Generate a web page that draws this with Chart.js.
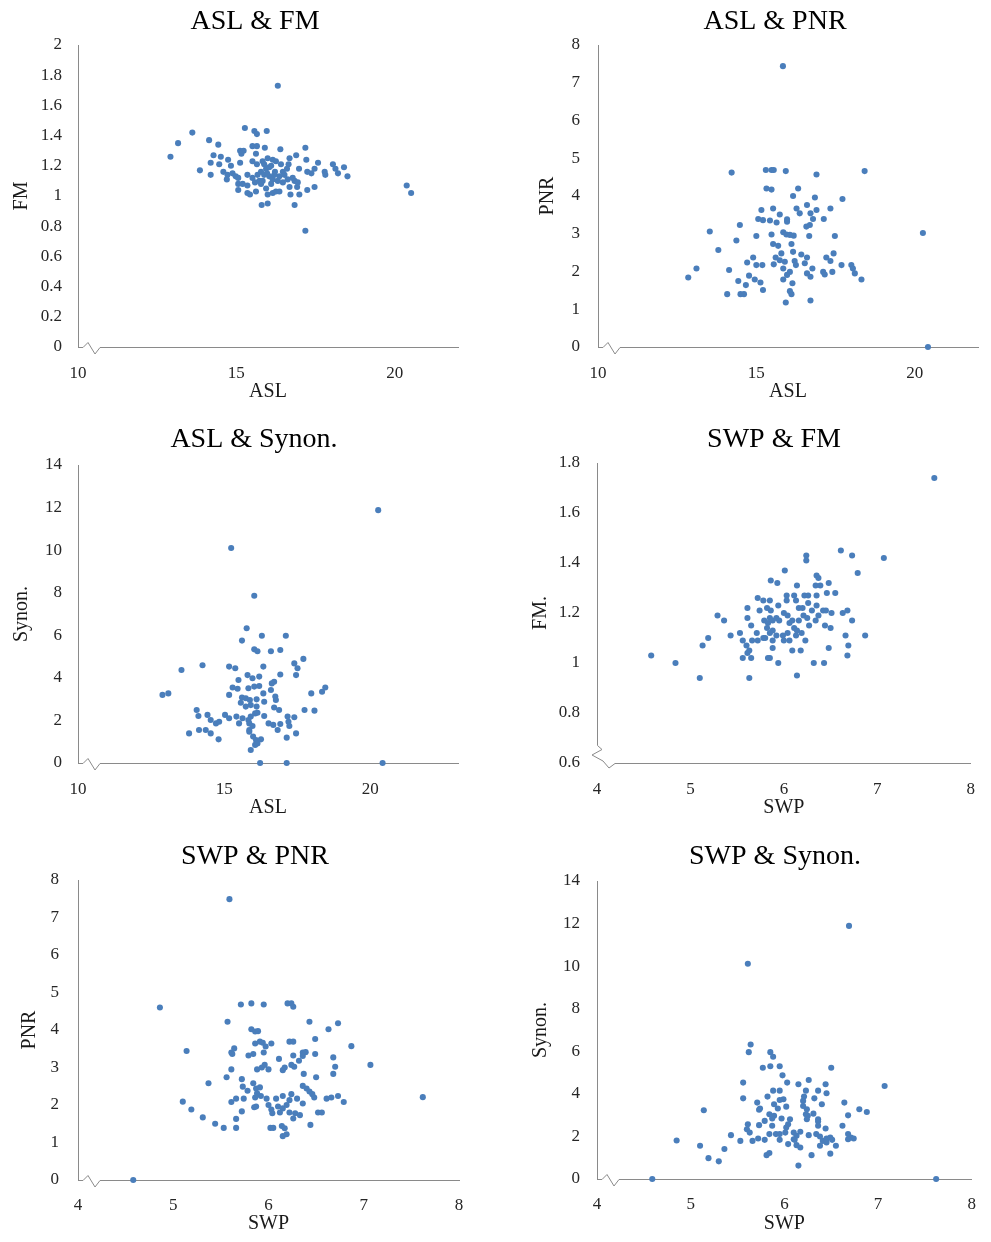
<!DOCTYPE html>
<html><head><meta charset="utf-8">
<script src="https://cdn.jsdelivr.net/npm/chart.js@4"></script>
<style>
html,body{margin:0;padding:0;background:#fff;}
#wrap{position:relative;width:991px;height:1242px;overflow:hidden;background:#fff;}
canvas{position:absolute;}
</style></head><body><div id="wrap">
<canvas id="c1" width="495" height="414" style="left:0px;top:0px"></canvas>
<canvas id="c2" width="496" height="414" style="left:495px;top:0px"></canvas>
<canvas id="c3" width="495" height="414" style="left:0px;top:414px"></canvas>
<canvas id="c4" width="496" height="414" style="left:495px;top:414px"></canvas>
<canvas id="c5" width="495" height="414" style="left:0px;top:828px"></canvas>
<canvas id="c6" width="496" height="414" style="left:495px;top:828px"></canvas>
</div>
<script>
// ---------------- DATA ----------------
const titles = ["ASL & FM", "ASL & PNR", "ASL & Synon.", "SWP & FM", "SWP & PNR", "SWP & Synon."];
const xTitles = ["ASL", "ASL", "ASL", "SWP", "SWP", "SWP"];
const yTitles = ["FM", "PNR", "Synon.", "FM.", "PNR", "Synon."];

const aslFM_asl = [16.31,13.61,13.16,12.92,14.14,14.43,13.85,14.19,15.27,15.57,
15.65,15.96,15.51,15.65,15.90,16.39,17.18,15.12,15.23,15.16,
15.62,16.89,16.68,17.21,17.58,14.28,14.51,14.74,14.19,14.46,
14.83,15.12,15.51,15.65,15.83,15.99,16.15,16.25,16.41,16.65,
18.05,18.40,18.13,18.21,17.79,17.47,17.37,17.24,16.98,18.51,
17.81,14.59,14.72,14.88,14.98,14.70,15.06,15.35,15.51,15.78,
15.94,16.10,16.22,16.47,16.60,15.88,16.04,16.15,16.31,16.47,
16.62,16.78,16.84,15.06,15.20,15.35,15.59,15.73,15.83,15.06,
15.35,15.62,15.99,16.15,16.25,16.36,16.68,16.92,16.71,16.99,
17.24,17.47,15.43,15.80,15.99,16.84,17.18,20.38,20.52,15.88,
16.04,15.97,16.20,16.36,16.52,15.67,15.78,16.10,15.94,16.94];
const aslFM_fm = [1.73,1.42,1.35,1.26,1.37,1.34,1.17,1.14,1.45,1.43,
1.41,1.43,1.33,1.33,1.32,1.31,1.32,1.30,1.30,1.28,
1.28,1.27,1.25,1.24,1.22,1.27,1.26,1.24,1.22,1.21,
1.20,1.22,1.23,1.21,1.23,1.25,1.24,1.23,1.21,1.21,
1.21,1.19,1.18,1.15,1.16,1.18,1.15,1.16,1.18,1.13,
1.14,1.16,1.14,1.15,1.13,1.11,1.12,1.14,1.12,1.16,
1.18,1.20,1.16,1.16,1.18,1.14,1.13,1.11,1.10,1.09,
1.11,1.12,1.10,1.08,1.08,1.07,1.09,1.10,1.10,1.04,
1.02,1.03,1.01,1.02,1.03,1.03,1.06,1.06,1.01,1.01,
1.04,1.06,1.01,0.94,0.95,0.94,0.77,1.07,1.02,1.21,
1.19,1.15,1.14,1.13,1.14,1.14,1.08,1.08,1.05,1.09];

const aslPNR_asl = [14.22,15.30,15.48,15.55,15.93,16.90,18.42,15.32,15.48,16.32,
16.16,16.85,17.72,15.16,15.53,15.74,16.27,16.37,16.60,16.90,
16.71,17.34,15.06,15.21,15.43,15.64,15.97,15.97,16.79,17.13,
16.69,16.58,14.48,13.53,14.37,15.00,15.48,15.85,15.95,16.06,
16.18,16.67,17.48,15.53,15.69,16.11,16.16,13.80,14.90,14.71,
15.00,15.19,15.55,15.61,15.79,15.74,15.90,15.85,16.21,16.25,
16.42,16.60,16.53,16.77,17.21,17.34,17.44,17.69,18.00,18.05,
13.11,12.85,14.14,14.43,14.77,14.95,15.13,15.21,14.67,14.08,
14.50,14.61,16.06,15.97,15.85,16.14,16.60,16.71,17.11,17.16,
17.40,18.11,18.32,16.06,16.11,15.93,16.71,20.26,20.42,15.84];
const aslPNR_pnr = [4.62,4.69,4.69,4.69,4.66,4.57,4.66,4.20,4.17,4.20,
4.00,3.96,3.92,3.63,3.67,3.51,3.67,3.54,3.76,3.63,
3.54,3.67,3.39,3.36,3.35,3.30,3.38,3.32,3.39,3.39,
3.23,3.19,3.23,3.06,2.82,2.94,2.98,3.04,2.98,2.97,
2.95,2.94,2.94,2.73,2.68,2.73,2.52,2.57,2.37,2.24,
2.17,2.17,2.19,2.37,2.48,2.30,2.26,2.08,2.28,2.17,
2.45,2.37,2.22,2.08,2.37,2.28,2.48,2.17,2.17,2.08,
2.08,1.84,2.04,1.75,1.89,1.79,1.71,1.51,1.64,1.40,
1.40,1.40,1.99,1.91,1.79,1.69,1.95,1.86,1.99,1.92,
1.99,1.95,1.79,1.48,1.40,1.18,1.23,3.02,0,7.44];

const aslSyn_asl = [16.03,15.77,16.29,17.11,15.61,16.03,16.14,16.60,16.92,13.54,
14.26,15.17,15.38,16.34,17.40,17.71,17.51,17.46,15.49,15.80,
15.97,16.20,16.92,16.71,16.63,15.29,15.46,15.83,16.03,16.20,
16.60,16.34,15.17,15.61,15.74,15.88,16.11,16.37,16.75,16.77,
12.89,13.09,17.98,18.35,18.46,15.57,15.74,15.91,16.11,16.71,
16.88,14.06,14.12,14.43,14.54,14.72,14.83,15.03,15.17,15.42,
15.63,15.83,15.91,16.06,16.14,16.37,17.17,17.40,17.75,18.09,
15.51,15.86,15.97,16.52,16.68,16.92,17.23,17.20,13.80,14.14,
14.37,14.54,14.81,15.86,15.86,16.83,17.46,17.14,15.99,16.09,
16.06,16.14,16.26,15.91,16.23,17.14,20.42,15.24,20.27];
const aslSyn_syn = [7.86,6.33,5.98,5.98,5.75,5.34,5.25,5.25,5.31,4.37,
4.59,4.53,4.45,4.53,4.68,4.89,4.45,4.13,3.90,4.13,
3.98,4.06,4.16,3.82,3.74,3.55,3.49,3.51,3.59,3.62,
3.43,3.27,3.20,3.08,3.04,2.96,2.99,2.88,3.12,2.96,
3.20,3.27,3.27,3.35,3.55,2.83,2.65,2.72,2.65,2.61,
2.49,2.49,2.21,2.26,2.02,1.86,1.94,2.26,2.10,2.18,
2.10,2.02,2.18,2.33,2.36,2.21,2.18,2.15,2.49,2.46,
1.86,1.86,1.74,1.86,1.79,1.83,1.74,1.94,1.39,1.55,
1.55,1.39,1.11,1.55,1.47,1.55,1.39,1.19,1.24,1.08,
0.85,0.92,1.11,0.61,0,0,0,10.1,11.88];

const swpFM_swp = [4.58,4.84,5.10,5.13,5.19,5.29,5.36,5.43,5.53,5.56,
5.60,5.63,5.65,5.56,5.61,5.66,5.71,5.72,5.78,5.61,
5.61,5.65,5.72,5.78,5.85,5.74,5.82,5.86,5.85,5.79,
5.86,5.93,6.01,6.14,6.24,6.24,6.35,6.37,6.34,6.39,
6.48,6.46,6.55,6.61,6.73,6.79,7.07,5.94,6.03,6.03,
6.11,6.13,6.22,6.26,6.26,6.35,6.35,6.16,6.20,6.30,
6.42,6.45,6.51,6.63,6.68,6.73,5.83,5.88,5.92,5.95,
6.00,6.04,6.06,6.09,6.16,6.21,6.25,6.27,6.34,6.37,
6.44,6.50,6.11,6.14,5.82,5.85,5.88,5.92,5.99,6.04,
6.06,6.13,6.19,6.23,5.80,5.88,5.88,6.00,6.09,6.18,
5.83,5.85,5.94,6.32,6.43,6.48,6.69,6.68,6.66,6.87,
5.63,6.14,7.61];
const swpFM_fm = [1.03,1.00,0.94,1.07,1.10,1.19,1.17,1.11,1.12,1.09,
1.07,1.05,1.02,1.02,1.04,1.09,1.12,1.09,1.10,1.22,
1.18,1.15,1.26,1.25,1.25,1.21,1.22,1.21,1.18,1.17,
1.33,1.32,1.37,1.31,1.43,1.41,1.35,1.34,1.31,1.31,
1.32,1.28,1.28,1.45,1.43,1.36,1.42,1.23,1.27,1.25,
1.27,1.25,1.27,1.27,1.24,1.27,1.23,1.22,1.22,1.21,
1.21,1.21,1.20,1.20,1.21,1.17,1.16,1.17,1.18,1.17,
1.20,1.19,1.16,1.17,1.17,1.19,1.18,1.15,1.17,1.19,
1.15,1.14,1.14,1.13,1.14,1.12,1.13,1.11,1.11,1.12,
1.09,1.11,1.12,1.09,1.10,1.09,1.06,1.09,1.05,1.05,
1.02,1.02,1.00,1.00,1.00,1.06,1.07,1.03,1.11,1.11,
0.94,0.95,1.74];

const swpPNR_swp = [4.86,5.71,5.82,5.95,6.20,6.24,6.26,5.57,6.43,6.73,
6.63,5.82,5.86,5.89,6.49,6.87,5.86,5.91,5.94,5.97,
6.03,6.22,6.26,5.14,5.61,5.64,5.62,5.79,5.84,5.95,
6.11,6.26,6.36,6.39,6.36,6.32,6.49,6.68,5.61,5.88,
5.93,5.96,6.00,6.15,6.17,6.24,6.27,6.37,6.50,6.70,
6.68,7.07,5.37,5.56,5.72,5.84,5.73,5.78,5.87,5.91,
5.88,5.92,5.86,6.36,6.40,6.43,6.46,6.48,5.10,5.61,
5.66,5.74,5.98,6.08,6.15,6.22,6.24,6.30,6.36,6.61,
6.66,6.73,6.79,5.19,5.31,5.44,5.53,5.66,5.66,5.72,
5.85,5.87,6.00,6.03,6.04,6.10,6.15,6.19,6.12,6.22,
6.28,6.33,6.26,6.52,6.56,6.44,6.02,6.05,6.14,6.17,
6.15,6.19,5.59,7.62,4.58];
const swpPNR_pnr = [4.60,4.68,4.71,4.68,4.71,4.71,4.62,4.22,4.22,4.18,
4.02,4.02,3.96,3.97,3.76,3.57,3.64,3.69,3.66,3.56,
3.64,3.69,3.69,3.44,3.40,3.51,3.36,3.32,3.36,3.40,
3.23,3.32,3.40,3.41,3.31,3.18,3.36,3.27,2.95,2.95,
3.00,3.07,2.95,2.93,3.00,3.07,3.02,2.83,2.74,3.02,
2.83,3.07,2.58,2.74,2.69,2.58,2.49,2.38,2.44,2.47,
2.31,2.24,2.20,2.51,2.44,2.36,2.29,2.20,2.09,2.08,
2.17,2.17,2.17,2.17,2.24,2.13,2.29,2.17,2.04,2.17,
2.20,2.24,2.08,1.88,1.67,1.50,1.39,1.63,1.39,1.83,
1.94,1.96,2.00,1.88,1.78,1.96,1.91,2.00,1.80,1.80,
1.78,1.73,1.64,1.80,1.80,1.47,1.39,1.39,1.44,1.38,
1.17,1.22,7.49,2.21,0];

const swpSyn_swp = [5.64,5.62,5.85,5.88,5.77,5.85,5.95,6.50,5.98,5.56,
6.03,6.15,6.26,6.44,7.07,5.88,5.95,6.23,6.36,6.45,
5.56,5.82,5.95,5.99,6.21,6.20,6.32,6.64,6.40,5.71,
5.89,5.93,6.02,5.73,5.74,6.20,6.24,6.80,6.88,6.68,
5.84,5.89,5.87,5.97,5.79,6.23,6.25,6.31,6.36,6.36,
6.24,6.06,6.04,5.61,5.60,5.63,5.73,5.87,6.02,6.36,
6.44,6.62,5.43,5.53,5.66,5.72,5.79,5.84,5.91,5.95,
5.95,6.01,6.10,6.17,6.13,6.10,6.04,6.13,6.17,6.11,
6.26,6.34,6.38,6.41,6.45,6.49,6.51,6.45,6.55,6.68,
6.71,6.74,6.68,6.38,5.10,5.19,5.30,5.36,5.81,5.84,
6.29,6.49,6.15,5.14,5.61,6.69,7.62,4.59,4.85];
const swpSyn_syn = [6.32,5.96,5.96,5.74,5.23,5.30,5.30,5.23,4.87,4.53,
4.53,4.45,4.65,4.45,4.37,4.15,4.15,4.15,4.15,4.03,
3.79,3.87,3.71,3.75,3.87,3.67,3.79,3.59,3.51,3.59,
3.51,3.31,3.40,3.25,3.31,3.43,3.28,3.28,3.15,2.99,
3.04,2.97,2.84,2.84,2.73,3.04,2.97,3.07,2.81,2.70,
2.81,2.81,2.57,2.57,2.34,2.18,2.53,2.50,2.42,2.50,
2.37,2.50,2.06,1.79,1.79,1.90,1.84,2.11,2.11,2.11,
1.84,2.18,2.18,2.22,2.03,1.87,1.64,1.59,1.48,1.84,
2.06,2.11,2.00,1.79,1.90,1.95,1.84,1.72,1.56,2.11,
1.95,1.90,1.87,1.56,1.56,0.98,0.83,1.41,1.12,1.22,
1.12,1.19,0.63,3.23,10.11,11.89,0,0,1.81];

// axis ranges and steps
const xRanges = [[10,22,5],[10,22,5],[10,23,5],[4,8,1],[4,8,1],[4,8,1]];
const yRanges = [[0,2,0.2],[0,8,1],[0,14,2],[0.6,1.8,0.2],[0,8,1],[0,14,2]];

// ---------------- LAYOUT ----------------
const FONT = "'Liberation Serif','Times New Roman',serif";
const BLUE = '#4A7EBB';
const AXIS = '#8a8a8a';
const panels = [
  {id:'c1', cl:0,   ct:0,   W:495, H:414, L:78,  R:458, T:45,  B:347,  tcx:255, tcy:22,  yTX:22,  xTY:392,  yPad:16, xPad:16, brk:'x', xs:aslFM_asl, ys:aslFM_fm},
  {id:'c2', cl:495, ct:0,   W:496, H:414, L:598, R:978, T:45,  B:347,  tcx:775, tcy:22,  yTX:548, xTY:392,  yPad:18, xPad:16, brk:'x', xs:aslPNR_asl, ys:aslPNR_pnr},
  {id:'c3', cl:0,   ct:414, W:495, H:414, L:78,  R:458, T:465, B:763,  tcx:254, tcy:440, yTX:22,  xTY:808,  yPad:16, xPad:16, brk:'x', xs:aslSyn_asl, ys:aslSyn_syn},
  {id:'c4', cl:495, ct:414, W:496, H:414, L:597, R:978, T:463, B:763,  tcx:774, tcy:440, yTX:541, xTY:808,  yPad:17, xPad:16, brk:'y', xs:swpFM_swp, ys:swpFM_fm},
  {id:'c5', cl:0,   ct:828, W:495, H:414, L:78,  R:459, T:880, B:1180, tcx:255, tcy:857, yTX:30,  xTY:1224, yPad:19, xPad:15, brk:'x', xs:swpPNR_swp, ys:swpPNR_pnr},
  {id:'c6', cl:495, ct:828, W:496, H:414, L:597, R:978, T:881, B:1179, tcx:775, tcy:857, yTX:541, xTY:1224, yPad:17, xPad:15, brk:'x', xs:swpSyn_swp, ys:swpSyn_syn}
];

const alignPx = v => Math.round(v - 0.5) + 0.5;

const breakPlugin = {
  id: 'axisBreak',
  afterDraw(chart, args, opts) {
    if (!opts || !opts.type) return;
    const ca = chart.chartArea;
    const L = alignPx(ca.left), B = alignPx(ca.bottom);
    const ctx = chart.ctx;
    ctx.save();
    ctx.fillStyle = '#fff';
    ctx.strokeStyle = AXIS;
    ctx.lineWidth = 1;
    ctx.beginPath();
    if (opts.type === 'x') {
      ctx.fillRect(L + 2, B - 2, 22, 4);
      ctx.moveTo(L, B); ctx.lineTo(L + 4.5, B); ctx.lineTo(L + 9.5, B - 5);
      ctx.lineTo(L + 16.5, B + 6.5); ctx.lineTo(L + 21.5, B); ctx.lineTo(L + 25, B);
    } else {
      ctx.fillRect(L - 2, B - 18, 4, 20);
      ctx.fillRect(L, B - 2, 21, 4);
      ctx.moveTo(L, B - 18); ctx.lineTo(L + 4.5, B - 14); ctx.lineTo(L - 5.5, B - 8.5);
      ctx.lineTo(L + 5.5, B - 2.5); ctx.lineTo(L + 11.5, B + 4.5); ctx.lineTo(L + 17.5, B); ctx.lineTo(L + 23, B);
    }
    ctx.stroke();
    ctx.restore();
  }
};

const titleShift = {
  id: 'titleShift',
  afterLayout(chart, args, opts) {
    const tb = chart.titleBlock;
    if (!tb || opts == null || opts.cx == null) return;
    tb.left = opts.cx - 200;
    tb.right = opts.cx + 200;
  }
};

const fmt = v => String(Math.round(v * 10) / 10);

panels.forEach((p, i) => {
  const l = p.L - p.cl, r = p.R - p.cl, t = p.T - p.ct, b = p.B - p.ct;
  const padL = p.yTX - p.cl - 12;
  const yW = l - padL;
  const padR = p.W - r;
  const tcy = p.tcy - p.ct;
  const tPadTop = tcy - 16.8;
  const tPadBottom = t - (tcy + 16.8);
  const xH = (p.xTY - p.ct) + 12 - b;
  const padB = p.H - b - xH;
  const [xmin, xmax, xstep] = xRanges[i];
  const [ymin, ymax, ystep] = yRanges[i];
  new Chart(document.getElementById(p.id), {
    type: 'scatter',
    data: {
      datasets: [{
        data: p.xs.map((x, k) => ({x: x, y: p.ys[k]})),
        backgroundColor: BLUE,
        borderColor: BLUE,
        borderWidth: 0,
        pointRadius: 3.05,
        pointHoverRadius: 3.05,
        clip: false
      }]
    },
    options: {
      responsive: false,
      animation: false,
      devicePixelRatio: 1,
      events: [],
      layout: {padding: {left: padL, right: padR, top: 0, bottom: padB}},
      plugins: {
        legend: {display: false},
        tooltip: {enabled: false},
        title: {
          display: true, text: titles[i], color: '#000', fullSize: true,
          font: {family: FONT, size: 28, weight: 'normal', lineHeight: 1.2},
          padding: {top: tPadTop, bottom: tPadBottom}
        },
        titleShift: {cx: p.tcx - p.cl},
        axisBreak: {type: p.brk}
      },
      scales: {
        x: {
          type: 'linear', position: 'bottom', min: xmin, max: xmax,
          grid: {display: false, drawTicks: false},
          border: {display: true, color: AXIS, width: 1},
          ticks: {stepSize: xstep, includeBounds: false, padding: p.xPad, color: '#262626',
                  font: {family: FONT, size: 17}, maxRotation: 0, callback: fmt},
          title: {display: true, text: xTitles[i], color: '#1a1a1a', padding: 0,
                  font: {family: FONT, size: 20, lineHeight: 1.2}},
          afterFit: s => { s.height = xH; }
        },
        y: {
          type: 'linear', position: 'left', min: ymin, max: ymax,
          grid: {display: false, drawTicks: false},
          border: {display: true, color: AXIS, width: 1},
          ticks: {stepSize: ystep, includeBounds: false, padding: p.yPad, color: '#262626',
                  font: {family: FONT, size: 17}, callback: fmt},
          title: {display: true, text: yTitles[i], color: '#1a1a1a', padding: 0,
                  font: {family: FONT, size: 20, lineHeight: 1.2}},
          afterFit: s => { s.width = yW; }
        }
      }
    },
    plugins: [breakPlugin, titleShift]
  });
});
</script>
</body></html>
